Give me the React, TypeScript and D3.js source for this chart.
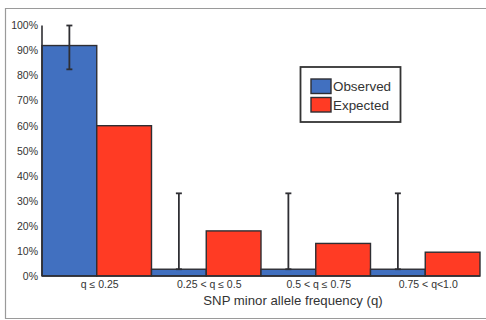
import React from "react";
import * as d3 from "d3";

const categories = ["q ≤ 0.25", "0.25 < q ≤ 0.5", "0.5 < q ≤ 0.75", "0.75 < q<1.0"];
const observed = [92, 2.7, 2.7, 2.7];
const expected = [60, 18, 13, 9.5];
const errLow = [82.5, 2.7, 2.7, 2.7];
const errHigh = [100, 33, 33, 33];
const yTicks = [0, 10, 20, 30, 40, 50, 60, 70, 80, 90, 100];
const seriesNames = ["Observed", "Expected"];

const W = 486;
const H = 320;
const left = 42;
const right = 480;
const top = 25.5;
const bottom = 276;
const BLUE = "#4170c0";
const RED = "#ff3b24";
const EDGE = "#2e2e33";
const FONT = "Liberation Sans, Arial, Helvetica, sans-serif";

export default function App() {
  const x = d3.scaleBand<string>().domain(categories).range([left, right]).padding(0);
  const sub = d3.scaleBand<string>().domain(seriesNames).range([0, x.bandwidth()]).padding(0);
  const y = d3.scaleLinear().domain([0, 100]).range([bottom, top]);
  const series = [observed, expected];
  const colors = [BLUE, RED];

  return (
    <svg width={W} height={H} style={{ position: "absolute", left: 0, top: 0 }} fontFamily={FONT}>
      <rect x={0} y={0} width={W} height={H} fill="#fff" />
      {/* outer frame */}
      <path d={`M${W},8.5 H5.5 V318.5 H${W}`} fill="none" stroke="#9a9a9a" strokeWidth={1.2} />

      {/* bars */}
      {categories.map((c, i) =>
        seriesNames.map((s, j) => {
          const v = series[j][i];
          return (
            <rect
              key={c + s}
              x={(x(c) ?? 0) + (sub(s) ?? 0)}
              y={y(v)}
              width={sub.bandwidth()}
              height={y(0) - y(v)}
              fill={colors[j]}
              stroke={EDGE}
              strokeWidth={1.4}
            />
          );
        })
      )}

      {/* error bars on observed */}
      {categories.map((c, i) => {
        const cx = (x(c) ?? 0) + (sub("Observed") ?? 0) + sub.bandwidth() / 2;
        return (
          <g key={"e" + c} stroke={EDGE} strokeWidth={1.8}>
            <line x1={cx} x2={cx} y1={y(errLow[i])} y2={y(errHigh[i])} />
            <line x1={cx - 3} x2={cx + 3} y1={y(errHigh[i])} y2={y(errHigh[i])} />
            <line x1={cx - 3} x2={cx + 3} y1={y(errLow[i])} y2={y(errLow[i])} />
          </g>
        );
      })}

      {/* axes */}
      <line x1={left} x2={left} y1={top} y2={bottom} stroke={EDGE} strokeWidth={1.6} />
      <line x1={left} x2={right} y1={bottom} y2={bottom} stroke={EDGE} strokeWidth={1.6} />
      {yTicks.map((t) => (
        <text key={t} x={38} y={y(t) + 3.8} textAnchor="end" fontSize={10.5} fill="#333">
          {t}%
        </text>
      ))}
      {categories.map((c) => (
        <text key={c} x={(x(c) ?? 0) + x.bandwidth() / 2 + 3} y={288} textAnchor="middle" fontSize={10.5} fill="#333">
          {c}
        </text>
      ))}
      <text x={293} y={304.5} textAnchor="middle" fontSize={13.2} fill="#333">
        SNP minor allele frequency (q)
      </text>

      {/* legend */}
      <rect x={300.5} y={67} width={100} height={55} fill="#fff" stroke="#333" strokeWidth={1.8} />
      {seriesNames.map((s, j) => (
        <g key={s}>
          <rect x={311} y={79 + j * 18.5} width={20} height={14.5} fill={colors[j]} stroke={EDGE} strokeWidth={1.4} />
          <text x={333} y={91 + j * 18.5} fontSize={13.4} fill="#333">
            {s}
          </text>
        </g>
      ))}
    </svg>
  );
}
